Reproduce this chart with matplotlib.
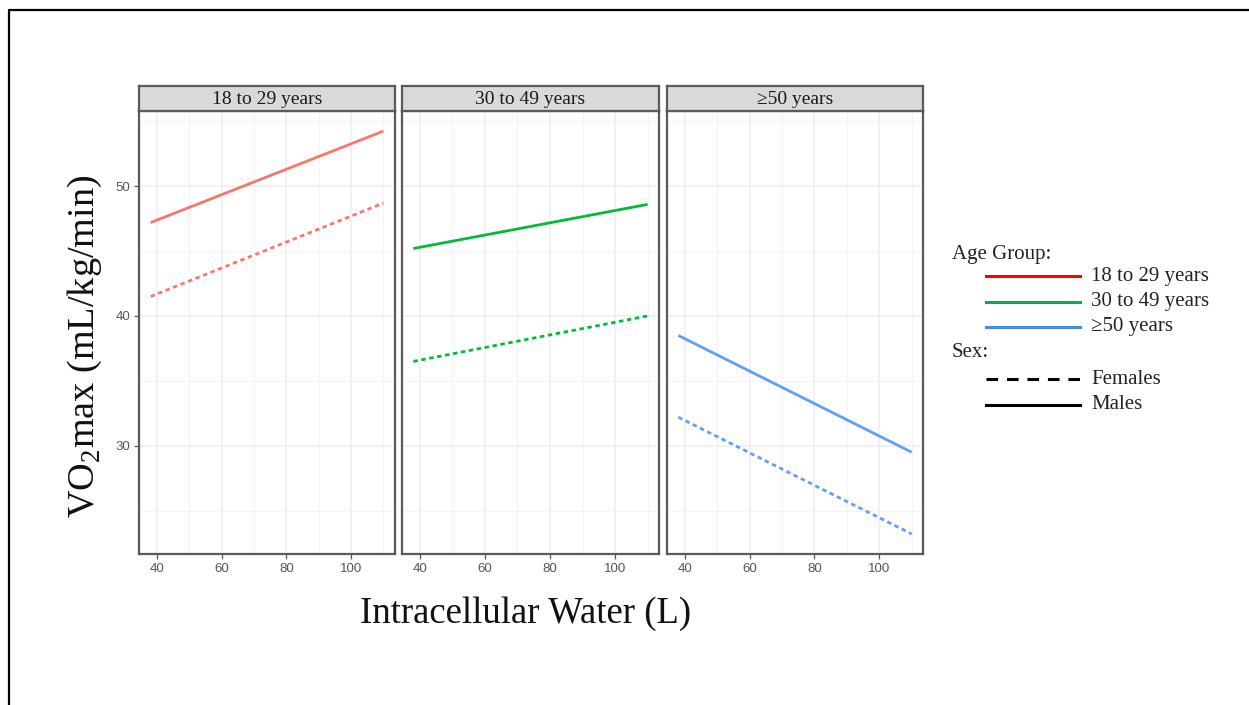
import matplotlib
matplotlib.use("Agg")
import matplotlib.pyplot as plt
from matplotlib.lines import Line2D
import numpy as np

# data: fitted lines at the two ends of the ICW range
age_groups = ['18 to 29 years', '30 to 49 years', '≥50 years']
icw = [38, 110]
males = [[47.2, 54.25], [45.2, 48.6], [38.5, 29.5]]
females = [[41.5, 48.7], [36.5, 40.0], [32.2, 23.2]]

line_colors = ['#F8766D', '#00BA38', '#619CFF']
legend_colors = ['#FF0000', '#00B050', '#3F8FE5']

plt.rcParams['mathtext.fontset'] = 'custom'
plt.rcParams['mathtext.rm'] = 'Liberation Serif'
serif = ['Liberation Serif', 'DejaVu Serif']

W, H = 1249, 705
fig = plt.figure(figsize=(W / 100, H / 100), dpi=100)

# panel boxes in pixels (left, right); shared top / bottom
panels_px = [(139, 395), (401.7, 659.3), (666.7, 923.3)]
top_px, bot_px = 111, 554.3
strip_top = 86

for i, (l, r) in enumerate(panels_px):
    ax = fig.add_axes([l / W, 1 - bot_px / H, (r - l) / W, (bot_px - top_px) / H])
    ax.plot(icw, males[i], color=line_colors[i], lw=2.0, solid_capstyle='butt')
    ax.plot(icw, females[i], color=line_colors[i], lw=2.0, linestyle=(0, (1.6, 1.3)))
    ax.set_xlim(34.4, 113.6)
    ax.set_ylim(21.63, 55.8)
    ax.set_xticks([40, 60, 80, 100])
    ax.set_xticks([50, 70, 90, 110], minor=True)
    ax.set_yticks([30, 40, 50])
    ax.set_yticks([25, 35, 45, 55], minor=True)
    ax.grid(which='major', color='#EDEDED', lw=1.1)
    ax.grid(which='minor', color='#F4F4F4', lw=0.8)
    ax.set_axisbelow(True)
    for s in ax.spines.values():
        s.set_color('#5A5A5A')
        s.set_linewidth(1.6)
    ax.tick_params(which='major', length=3.5, width=0.9, color='#555555',
                   labelcolor='#555555', labelsize=9.5, pad=3)
    ax.tick_params(which='minor', length=0)
    for lab in ax.get_xticklabels() + ax.get_yticklabels():
        lab.set_fontfamily('Liberation Sans')
    if i > 0:
        ax.tick_params(axis='y', labelleft=False, length=0)

    st = fig.add_axes([l / W, 1 - top_px / H, (r - l) / W, (top_px - strip_top) / H])
    st.set_facecolor('#D9D9D9')
    st.set_xticks([])
    st.set_yticks([])
    for s in st.spines.values():
        s.set_color('#5A5A5A')
        s.set_linewidth(1.6)
    st.text(0.5, 0.45, age_groups[i], ha='center', va='center', fontsize=14,
            family=serif, color='#1A1A1A', transform=st.transAxes)

# axis titles
fig.text(85 / W, 1 - 346 / H, 'VO$_{\\mathrm{2}}$max (mL/kg/min)', rotation=90,
         ha='center', va='center', fontsize=27.5, family=serif, color='#111111')
fig.text(526 / W, 1 - 614 / H, 'Intracellular Water (L)', ha='center', va='center',
         fontsize=26.5, family=serif, color='#111111')

# legend
fs_leg = 15
fig.text(952 / W, 1 - 255 / H, 'Age Group:', ha='left', va='center', fontsize=fs_leg,
         family=serif, color='#222222')
for k, lab in enumerate(age_groups):
    yy = 1 - (276 + 25.5 * k) / H
    fig.add_artist(Line2D([986 / W, 1080 / W], [yy, yy], color=legend_colors[k], lw=2.2))
    fig.text(1091 / W, yy, lab, ha='left', va='center', fontsize=fs_leg, family=serif,
             color='#222222')
fig.text(952 / W, 1 - 353 / H, 'Sex:', ha='left', va='center', fontsize=fs_leg,
         family=serif, color='#222222')
for k, (lab, ls) in enumerate([('Females', (0, (3.8, 2.9))), ('Males', '-')]):
    yy = 1 - (379 + 25.5 * k) / H
    fig.add_artist(Line2D([986 / W, 1080 / W], [yy, yy], color='black', lw=2.2, linestyle=ls))
    fig.text(1091 / W, yy, lab, ha='left', va='center', fontsize=fs_leg, family=serif,
             color='#222222')

# outer frame (only left and top edges are inside the picture)
fig.add_artist(Line2D([9 / W, 9 / W, 1.0], [0.0, 1 - 10 / H, 1 - 10 / H],
                      color='black', lw=1.6))

fig.savefig('out.png', dpi=100)
